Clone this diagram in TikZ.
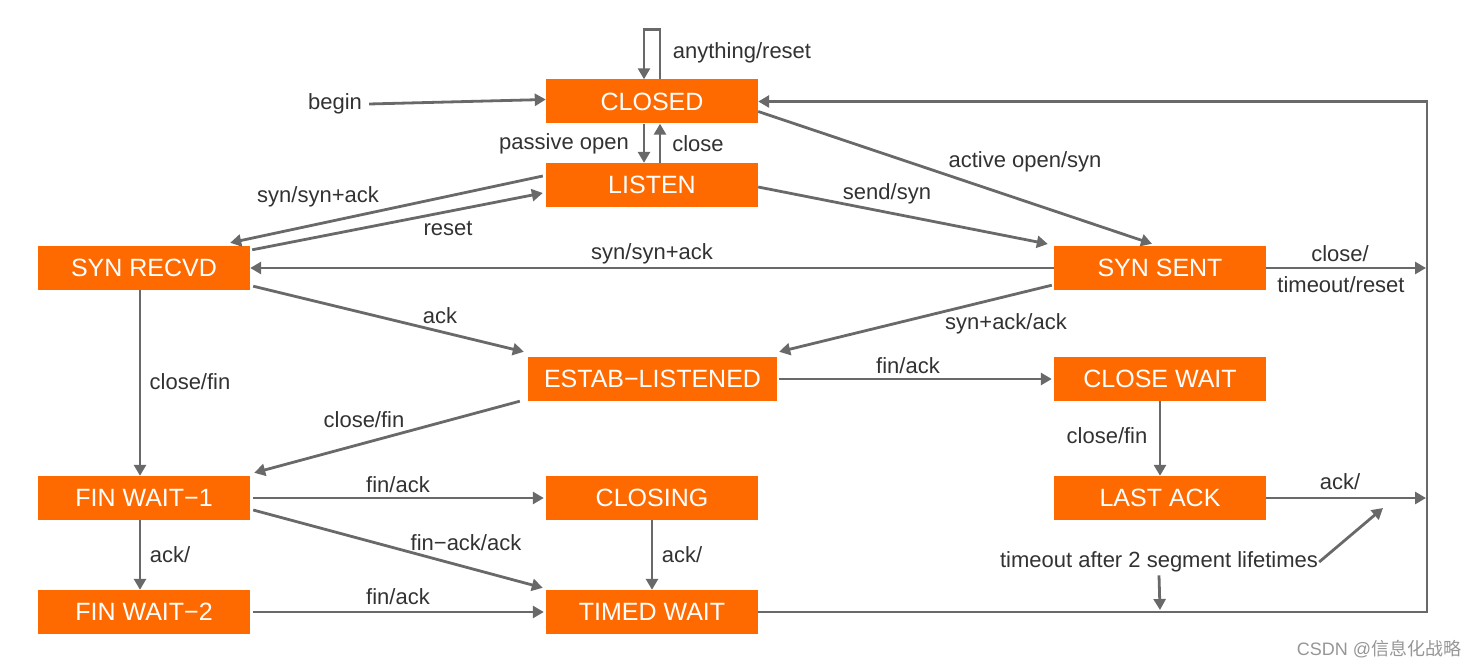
\documentclass[tikz,border=0pt]{standalone}
\usepackage{fontspec}
\setmainfont{Liberation Sans}
\newfontfamily\cjk{Noto Sans CJK SC}
\usetikzlibrary{arrows.meta,calc}
\definecolor{tcporange}{RGB}{255,106,0}
\definecolor{linegray}{RGB}{105,105,105}
\definecolor{labelgray}{RGB}{50,50,50}
\definecolor{markgray}{RGB}{150,150,150}
\begin{document}
\begin{tikzpicture}[x=1pt,y=-1pt,
  state/.style={fill=tcporange,text=white,minimum width=212pt,minimum height=44pt,inner sep=0pt,font=\fontsize{25}{29}\selectfont},
  lbl/.style={text=labelgray,font=\fontsize{22}{26}\selectfont,inner sep=1pt,yshift=-2pt},
  conn/.style={draw=linegray,line width=2.8pt,-{Triangle[length=11pt,width=12pt]}}]
\useasboundingbox (0,0) rectangle (1482,668);
% states
\node[state] (closed) at (652,101.5) {CLOSED};
\node[state] (listen) at (652,185) {LISTEN};
\node[state] (synrecvd) at (144,268) {SYN RECVD};
\node[state] (synsent) at (1160,268) {SYN SENT};
\node[state,minimum width=249pt] (estab) at (652.5,379) {ESTAB−LISTENED};
\node[state] (closewait) at (1160,379) {CLOSE WAIT};
\node[state] (finwait1) at (144,498) {FIN WAIT−1};
\node[state] (closing) at (652,498) {CLOSING};
\node[state] (lastack) at (1160,498) {LAST ACK};
\node[state] (finwait2) at (144,612) {FIN WAIT−2};
\node[state] (timedwait) at (652,612) {TIMED WAIT};
% free ends
\coordinate (rj1) at (1426,268);
\coordinate (rj2) at (1426,498);
\coordinate (rb) at (1427,612);
\coordinate (tmotip) at (1383,508);
\coordinate (tmodown) at (1160,610);
% labels
\node[lbl] (lanything) at (742,51) {anything/reset};
\node[lbl] (begin) at (335,102) {begin};
\node[lbl] (lpassive) at (564,142) {passive open};
\node[lbl] (lclose) at (698,142) {close};
\node[lbl] (lsynack1) at (318,195) {syn/syn+ack};
\node[lbl] (lreset) at (448,226) {reset};
\node[lbl] (lactive) at (1025,160) {active open/syn};
\node[lbl] (lsend) at (887,192) {send/syn};
\node[lbl] (lsynack2) at (652,252) {syn/syn+ack};
\node[lbl] (lclose2) at (1340,252) {close/};
\node[lbl] (ltimeout) at (1341,283) {timeout/reset};
\node[lbl] (lack1) at (440,314) {ack};
\node[lbl] (lsynackack) at (1006,322) {syn+ack/ack};
\node[lbl] (lfinack1) at (908,364) {fin/ack};
\node[lbl] (lclosefin1) at (190,380) {close/fin};
\node[lbl] (lclosefin2) at (364,418) {close/fin};
\node[lbl] (lclosefin3) at (1107,434) {close/fin};
\node[lbl] (lfinack2) at (398,483) {fin/ack};
\node[lbl] (lack2) at (1340,480) {ack/};
\node[lbl] (lfinackack) at (466,541) {fin−ack/ack};
\node[lbl] (lack3) at (170,553) {ack/};
\node[lbl] (lack4) at (682,553) {ack/};
\node[lbl] (tmo) at (1159,560) {timeout after 2 segment lifetimes};
\node[lbl] (lfinack3) at (398,595) {fin/ack};
\node[text=markgray,font=\fontsize{18}{21}\selectfont,inner sep=0pt] (mark) at (1379,649) {CSDN @{\cjk 信息化战略}};
% connectors
\draw[conn] ($(closed.north)+(8,0)$) -- ++(0,-50) -- ++(-16,0) -- ($(closed.north)+(-8,0)$);
\draw[conn] ($(begin.east)+(6,0)$) -- ($(closed.west)+(0,-2)$);
\draw[conn] ($(closed.south)+(-8,0)$) -- ($(listen.north)+(-8,0)$);
\draw[conn] ($(listen.north)+(8,0)$) -- ($(closed.south)+(8,0)$);
\draw[conn] ($(closed.east)+(0,10)$) -- ($(synsent.north)+(-8,-2)$);
\draw[conn] ($(listen.east)+(0,2)$) -- ($(synsent.west)+(-6,-24)$);
\draw[conn] ($(listen.west)+(-3,-9)$) -- ($(synrecvd.north east)+(-20,-3)$);
\draw[conn] ($(synrecvd.north east)+(2,4)$) -- ($(listen.west)+(-3,8)$);
\draw[conn] (synsent.west) -- (synrecvd.east);
\draw[conn] (synsent.east) -- (rj1);
\draw[conn] ($(synrecvd.south east)+(3,-4)$) -- ($(estab.north west)+(-4,-5)$);
\draw[conn] ($(synsent.south west)+(-2,-5)$) -- ($(estab.north east)+(2,-5)$);
\draw[conn] ($(estab.east)+(2,0)$) -- ($(closewait.west)+(-2,0)$);
\draw[conn] ($(synrecvd.south)+(-4,0)$) -- ($(finwait1.north)+(-4,0)$);
\draw[conn] ($(estab.south west)+(-8,0)$) -- ($(finwait1.north east)+(4,-3)$);
\draw[conn] (closewait.south) -- (lastack.north);
\draw[conn] ($(finwait1.east)+(3,0)$) -- ($(closing.west)+(-2,0)$);
\draw[conn] ($(finwait1.east)+(3,12)$) -- ($(timedwait.north west)+(-3,-2)$);
\draw[conn] ($(finwait1.south)+(-4,0)$) -- ($(finwait2.north)+(-4,0)$);
\draw[conn] (closing.south) -- (timedwait.north);
\draw[conn] ($(finwait2.east)+(3,0)$) -- ($(timedwait.west)+(-2,0)$);
\draw[conn] (timedwait.east) -- (rb) |- (closed.east);
\draw[conn] (lastack.east) -- (rj2);
\draw[conn] ($(tmo.south)+(0,2)$) -- (tmodown);
\draw[conn] (tmo.east) -- (tmotip);
\end{tikzpicture}
\end{document}
